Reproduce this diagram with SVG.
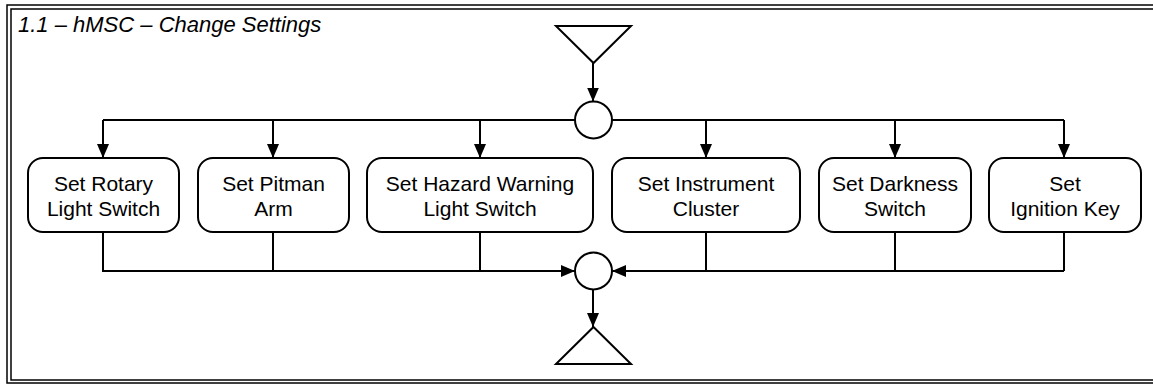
<svg xmlns="http://www.w3.org/2000/svg" width="1153" height="385" viewBox="0 0 1153 385">
<defs>
<marker id="arr" markerWidth="14" markerHeight="12" refX="14" refY="6" orient="auto" markerUnits="userSpaceOnUse">
<path d="M0,0 L14,6 L0,12 Z" fill="#000"/>
</marker>
<style>
.frame{fill:none;stroke:#000;stroke-width:1.5}
.box{fill:#fff;stroke:#000;stroke-width:2}
.sym{fill:#fff;stroke:#000;stroke-width:2}
.lbl{font-family:"Liberation Sans",Arial,sans-serif;font-size:21px;fill:#000;text-anchor:middle}
.title{font-family:"Liberation Sans",Arial,sans-serif;font-size:22px;font-style:italic;fill:#000}
.conn{fill:none;stroke:#000;stroke-width:2}
</style>
</defs>
<rect width="1153" height="385" fill="#fff"/>
<g id="frame">
<rect class="frame" x="7" y="5" width="1160" height="378"/>
<rect class="frame" x="11" y="9" width="1152" height="371"/>
<text class="title" x="18" y="32">1.1 – hMSC – Change Settings</text>
</g>
<g id="connectors">
<path class="conn" d="M593,63 L593,101.5" marker-end="url(#arr)"/>
<path class="conn" d="M103,120 L1064,120"/>
<path class="conn" d="M103,120 L103,158" marker-end="url(#arr)"/>
<path class="conn" d="M273,120 L273,158" marker-end="url(#arr)"/>
<path class="conn" d="M480,120 L480,158" marker-end="url(#arr)"/>
<path class="conn" d="M706,120 L706,158" marker-end="url(#arr)"/>
<path class="conn" d="M895,120 L895,158" marker-end="url(#arr)"/>
<path class="conn" d="M1064,120 L1064,158" marker-end="url(#arr)"/>
<path class="conn" d="M103,232 L103,271 L273,271 M273,232 L273,271 M480,232 L480,271"/>
<path class="conn" d="M103,271 L575,271" marker-end="url(#arr)"/>
<path class="conn" d="M706,232 L706,271 M895,232 L895,271 M1064,232 L1064,271"/>
<path class="conn" d="M1064,271 L612,271" marker-end="url(#arr)"/>
<path class="conn" d="M593,289.5 L593,327" marker-end="url(#arr)"/>
</g>
<g id="start"><polygon class="sym" points="556,26 631,26 593.5,63"/></g>
<g id="fork"><circle class="sym" cx="593.5" cy="120" r="18.5"/></g>
<g id="join"><circle class="sym" cx="593.5" cy="271" r="18.5"/></g>
<g id="end"><polygon class="sym" points="593.5,327 631,364 556,364"/></g>
<g id="n1"><rect class="box" x="28" y="158" width="151" height="74" rx="15"/><text class="lbl" x="103.5" y="191">Set Rotary</text><text class="lbl" x="103.5" y="216">Light Switch</text></g>
<g id="n2"><rect class="box" x="198" y="158" width="151" height="74" rx="15"/><text class="lbl" x="273.5" y="191">Set Pitman</text><text class="lbl" x="273.5" y="216">Arm</text></g>
<g id="n3"><rect class="box" x="367" y="158" width="226" height="74" rx="15"/><text class="lbl" x="480" y="191">Set Hazard Warning</text><text class="lbl" x="480" y="216">Light Switch</text></g>
<g id="n4"><rect class="box" x="612" y="158" width="188" height="74" rx="15"/><text class="lbl" x="706" y="191">Set Instrument</text><text class="lbl" x="706" y="216">Cluster</text></g>
<g id="n5"><rect class="box" x="819" y="158" width="152" height="74" rx="15"/><text class="lbl" x="895" y="191">Set Darkness</text><text class="lbl" x="895" y="216">Switch</text></g>
<g id="n6"><rect class="box" x="989" y="158" width="152" height="74" rx="15"/><text class="lbl" x="1065" y="191">Set</text><text class="lbl" x="1065" y="216">Ignition Key</text></g>
</svg>
